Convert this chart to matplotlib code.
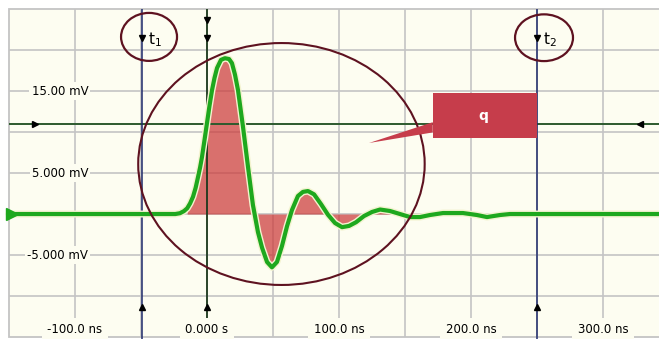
import matplotlib.pyplot as plt
import matplotlib.patheffects as pe
from matplotlib.patches import Ellipse, Polygon, Rectangle

# waveform (time in ns, amplitude in mV)
t_ns = [-150.0, -24.0, -20.5, -17.5, -15.0, -12.8, -10.6, -8.6, -6.8, -5.2,
        -3.8, -2.0, 0.0, 1.9, 3.8, 5.7, 7.6, 10.6,
        13.6, 16.7, 18.9, 21.2, 23.5, 27.3, 31.1, 34.8, 38.6, 41.7, 45.5,
        49.2, 53.0, 56.8, 60.6, 64.4, 68.9, 72.7, 76.5, 81.1, 86.4, 91.7,
        97.0, 102.3, 107.6, 112.9, 118.9, 125.0, 131.1, 138.6, 146.2, 153.8,
        161.4, 168.9, 178.8, 193.9, 204.5, 212.1, 222.0, 229.5, 345.0]
v_mv = [0.0, 0.0, 0.1, 0.35, 0.7, 1.3, 2.1, 3.2, 4.5, 5.7,
        6.95, 8.9, 11.1, 13.2, 15.1, 16.6, 17.8, 18.8,
        19.0, 18.9, 18.4, 17.0, 15.1, 10.6, 5.7, 1.1, -2.2, -4.1, -5.85,
        -6.5, -5.85, -3.9, -1.5, 0.5, 2.2, 2.7, 2.8, 2.4, 1.2, -0.1,
        -1.1, -1.6, -1.45, -1.0, -0.25, 0.25, 0.55, 0.37, 0.0, -0.37,
        -0.37, -0.12, 0.12, 0.12, -0.12, -0.37, -0.12, 0.0, 0.0]

# area q integrated between these limits
fill_start, fill_stop = -16.0, 147.0

grid_t = [-100, -50, 0, 50, 100, 150, 200, 250, 300]
grid_v = [-10, -5, 0, 5, 10, 15, 20]
x_labels = {-100: "-100.0 ns", 0: "0.000 s", 100: "100.0 ns",
            200: "200.0 ns", 300: "300.0 ns"}
y_labels = {15: "15.00 mV", 5: "5.000 mV", -5: "-5.000 mV"}

t1, t0, t2 = -49.5, 0.0, 250.0
ref_level = 11.0

BG = "#fdfdf1"
GRID = "#c4c4c4"
NAVY = "#1f2a6b"
DKGREEN = "#2d5a2d"
WINE = "#5e1220"

fig = plt.figure(figsize=(6.59, 3.39), dpi=100)
ax = fig.add_axes([0, 0, 1, 1])
ax.set_xlim(-156.8, 342.4)
ax.set_ylim(-15.24, 26.1)
ax.axis("off")

# screen background + frame
ax.add_patch(Rectangle((-150, -15), 520, 40, facecolor=BG, edgecolor=GRID,
                       lw=1.3, zorder=0))
ax.vlines(grid_t, -15, 25, color=GRID, lw=1.2, zorder=1)
ax.hlines(grid_v, -150, 360, color=GRID, lw=1.2, zorder=1)

# shaded charge area
in_q = [(fill_start <= t <= fill_stop) for t in t_ns]
ax.fill_between(t_ns, v_mv, 0, where=in_q, color="#cc3a3a", alpha=0.72,
                lw=0, zorder=2)

# cursors and reference level
ax.hlines(ref_level, -150, 360, color=DKGREEN, lw=1.4, zorder=3)
ax.vlines([t1, t2], -16, 25, color=NAVY, lw=1.1, zorder=3)
ax.vlines(t0, -16, 25, color="#1d3a1d", lw=1.3, zorder=3)

ax.plot([t1, t0, t2], [21.5] * 3, "kv", ms=5, zorder=6)
ax.plot([t0], [23.7], "kv", ms=5, zorder=6)
ax.plot([t1, t0, t2], [-11.3] * 3, "k^", ms=5, zorder=6)
ax.plot([-130.3], [ref_level], "k>", ms=5, zorder=6)
ax.plot([328.0], [ref_level], "k<", ms=5, zorder=6)

# waveform
ax.plot(t_ns, v_mv, color="#1ea81e", lw=3.0, zorder=5, solid_capstyle="round",
        solid_joinstyle="round",
        path_effects=[pe.Stroke(linewidth=5.0, foreground="#f3f3cf"),
                      pe.Normal()])
ax.plot([-147.7], [0], ">", color="#1ea81e", ms=9, zorder=6)

# annotations
ax.add_patch(Ellipse((56.4, 6.1), 217, 29.5, fill=False, ec=WINE, lw=1.5,
                     zorder=6))
ax.add_patch(Ellipse((-43.9, 21.6), 42.4, 5.85, fill=False, ec=WINE, lw=1.6,
                     zorder=6))
ax.add_patch(Ellipse((255.3, 21.5), 43.9, 5.7, fill=False, ec=WINE, lw=1.6,
                     zorder=6))
ax.text(-44.7, 21.3, "t$_1$", fontsize=11, va="center", ha="left", zorder=7)
ax.text(254.5, 21.3, "t$_2$", fontsize=11, va="center", ha="left", zorder=7)

ax.add_patch(Polygon([(171, 11.2), (122.7, 8.66), (171, 9.95)],
                     closed=True, fc="#c63d4b", ec="none", zorder=7))
ax.add_patch(Rectangle((171, 9.3), 79, 5.5, fc="#c63d4b", ec="none",
                       zorder=7))
ax.text(209, 12.0, "q", color="white", fontsize=10, fontweight="bold",
        ha="center", va="center", zorder=8)

# axis labels drawn on the screen
box = dict(facecolor=BG, edgecolor="none", pad=1.5)
for v, s in y_labels.items():
    ax.text(-90, v, s, fontsize=8.5, ha="right", va="center", bbox=box,
            zorder=4)
for t, s in x_labels.items():
    ax.text(t, -14.1, s, fontsize=8.5, ha="center", va="center",
            bbox=dict(facecolor=BG, edgecolor="none", pad=4), zorder=4)

fig.savefig("out.png", dpi=100, facecolor="white")
